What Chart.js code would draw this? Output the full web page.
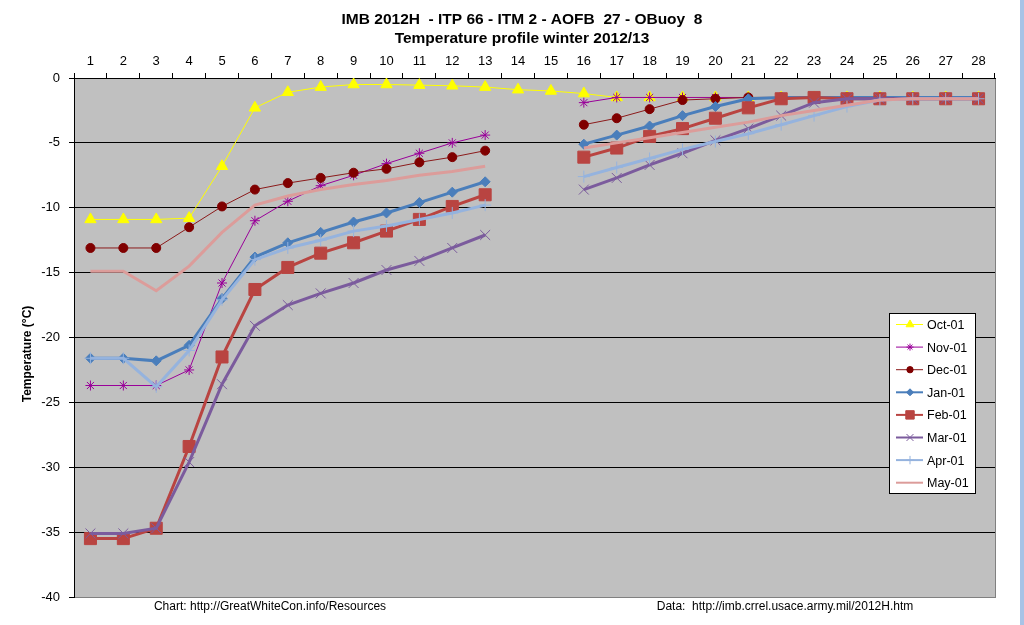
<!DOCTYPE html>
<html>
<head>
<meta charset="utf-8">
<script src="https://cdn.jsdelivr.net/npm/chart.js@4"></script>
<style>
  body { margin: 0; background: #fff; }
  #wrap { position: relative; width: 1024px; height: 625px; }
  #edge { position: absolute; right: 0; top: 0; width: 4px; height: 625px; background: #a8c3e6; }
</style>
</head>
<body>
<div id="wrap">
  <canvas id="imb-chart"></canvas>
  <div id="edge"></div>
</div>
<script>
// depth level labels (top axis)
const levels = ["1","2","3","4","5","6","7","8","9","10","11","12","13","14",
  "15","16","17","18","19","20","21","22","23","24","25","26","27","28"];
const yTicks = [0, -5, -10, -15, -20, -25, -30, -35, -40];

const titleLines = ["IMB 2012H  - ITP 66 - ITM 2 - AOFB  27 - OBuoy  8", "Temperature profile winter 2012/13"];
const seriesNames = ["Oct-01", "Nov-01", "Dec-01", "Jan-01", "Feb-01", "Mar-01", "Apr-01", "May-01"];

// temperatures per month (°C), null = no sensor reading
const oct01 = [-10.9, -10.9, -10.9, -10.8, -6.8, -2.3, -1.1, -0.7, -0.5, -0.5, -0.55, -0.6, -0.7, -0.9,
  -1.0, -1.2, -1.5, -1.5, -1.5, -1.5, -1.5, -1.5, -1.5, -1.5, -1.5, -1.5, -1.5, -1.5];
const nov01 = [-23.7, -23.7, -23.7, -22.5, -15.8, -11.0, -9.5, -8.3, -7.5, -6.6, -5.8, -5.0, -4.4, null,
  null, -1.9, -1.5, -1.5, -1.5, -1.5, -1.5, -1.5, -1.5, -1.5, -1.5, -1.5, -1.5, -1.5];
const dec01 = [-13.1, -13.1, -13.1, -11.5, -9.9, -8.6, -8.1, -7.7, -7.3, -7.0, -6.5, -6.1, -5.6, null,
  null, -3.6, -3.1, -2.4, -1.7, -1.6, -1.5, -1.5, -1.5, -1.5, -1.5, -1.5, -1.5, -1.5];
const jan01 = [-21.6, -21.6, -21.8, -20.6, -17.0, -13.8, -12.7, -11.9, -11.1, -10.4, -9.6, -8.8, -8.0, null,
  null, -5.1, -4.4, -3.7, -2.9, -2.2, -1.6, -1.5, -1.5, -1.5, -1.5, -1.5, -1.5, -1.5];
const feb01 = [-35.5, -35.5, -34.7, -28.4, -21.5, -16.3, -14.6, -13.5, -12.7, -11.8, -10.9, -9.9, -9.0, null,
  null, -6.1, -5.4, -4.5, -3.9, -3.1, -2.3, -1.6, -1.5, -1.6, -1.6, -1.6, -1.6, -1.6];
const mar01 = [-35.1, -35.1, -34.7, -29.6, -23.6, -19.1, -17.5, -16.6, -15.8, -14.8, -14.1, -13.1, -12.1, null,
  null, -8.6, -7.7, -6.7, -5.8, -4.8, -3.9, -2.9, -1.9, -1.6, -1.6, -1.6, -1.6, -1.6];
const apr01 = [-21.6, -21.6, -23.8, -21.0, -17.1, -14.0, -13.1, -12.5, -11.8, -11.4, -10.9, -10.4, -9.8, null,
  null, -7.6, -6.9, -6.2, -5.5, -4.9, -4.3, -3.6, -2.9, -2.2, -1.7, -1.6, -1.6, -1.6];
const may01 = [-14.9, -14.9, -16.4, -14.5, -11.9, -9.8, -9.1, -8.6, -8.2, -7.9, -7.5, -7.2, -6.8, null,
  null, -5.4, -5.0, -4.6, -4.2, -3.8, -3.4, -2.9, -2.5, -2.1, -1.7, -1.6, -1.6, -1.6];

const footLeft = "Chart: http://GreatWhiteCon.info/Resources";
const footRight = "Data:  http://imb.crrel.usace.army.mil/2012H.htm";

const FONT = "'Liberation Sans', Arial, sans-serif";

function series(i, data, color, width, style, radius, fill) {
  return {
    label: seriesNames[i],
    data: data,
    borderColor: color,
    backgroundColor: color,
    borderWidth: width,
    pointStyle: style,
    pointRadius: style ? radius : 0,
    pointHoverRadius: style ? radius : 0,
    pointBackgroundColor: fill || color,
    pointBorderColor: fill || color,
    pointBorderWidth: 1,
    tension: 0,
    spanGaps: false,
    order: 7 - i, // later series on top, like the original
  };
}

// grey plot area + white page
const backgroundPlugin = {
  id: "plotBackground",
  beforeDraw(chart) {
    const { ctx, chartArea: a } = chart;
    ctx.save();
    ctx.fillStyle = "#ffffff";
    ctx.fillRect(0, 0, chart.width, chart.height);
    ctx.fillStyle = "#c0c0c0";
    ctx.fillRect(a.left, a.top, a.right - a.left, a.bottom - a.top);
    ctx.strokeStyle = "#808080";
    ctx.lineWidth = 1;
    ctx.beginPath();
    ctx.moveTo(a.right + 0.5, a.top);
    ctx.lineTo(a.right + 0.5, a.bottom + 1);
    ctx.stroke();
    ctx.restore();
  },
};

// titles, axis title, footer and the boxed legend
const textPlugin = {
  id: "texts",
  afterDraw(chart) {
    const { ctx, chartArea: a } = chart;
    ctx.save();
    ctx.fillStyle = "#000";
    ctx.textAlign = "center";
    ctx.textBaseline = "middle";
    ctx.font = "bold 15.5px " + FONT;
    ctx.fillText(titleLines[0], 522, 20);
    ctx.fillText(titleLines[1], 522, 39);

    ctx.font = "12px " + FONT;
    ctx.fillText(footLeft, 270, 607);
    ctx.fillText(footRight, 785, 607);

    // y title
    ctx.save();
    ctx.translate(28, 354);
    ctx.rotate(-Math.PI / 2);
    ctx.font = "bold 12px " + FONT;
    ctx.fillText("Temperature (°C)", 0, 0);
    ctx.restore();

    // legend box
    const bx = 889, by = 313, bw = 86, bh = 180;
    ctx.fillStyle = "#fff";
    ctx.fillRect(bx, by, bw, bh);
    ctx.strokeStyle = "#000";
    ctx.lineWidth = 1;
    ctx.strokeRect(bx + 0.5, by + 0.5, bw, bh);

    ctx.textAlign = "left";
    ctx.font = "12.5px " + FONT;
    chart.data.datasets.forEach((ds, i) => {
      const y = by + 11.5 + i * 22.6;
      ctx.strokeStyle = ds.borderColor;
      ctx.lineWidth = Math.min(ds.borderWidth, 2);
      ctx.beginPath();
      ctx.moveTo(896, y);
      ctx.lineTo(923, y);
      ctx.stroke();
      if (ds.pointStyle) {
        ctx.fillStyle = ds.pointBackgroundColor;
        ctx.strokeStyle = ds.pointBorderColor;
        ctx.lineWidth = 1;
        Chart.helpers.drawPoint(ctx, {
          pointStyle: ds.pointStyle,
          radius: ds.pointRadius * 0.7,
          rotation: 0,
          borderWidth: 1,
        }, 910, y);
      }
      ctx.fillStyle = "#000";
      ctx.fillText(ds.label, 927, y + 1);
    });
    ctx.restore();
  },
};

new Chart(document.getElementById("imb-chart"), {
  type: "line",
  data: {
    labels: levels,
    datasets: [
      series(0, oct01, "#ffff00", 1, "triangle", 6.5),
      series(1, nov01, "#990099", 1, "star", 5),
      series(2, dec01, "#8b1a1a", 1, "circle", 4.5, "#800000"),
      series(3, jan01, "#4a7ebb", 3, "rectRot", 5),
      series(4, feb01, "#b94441", 3, "rect", 8.5),
      series(5, mar01, "#7b5b9d", 3, "crossRot", 7),
      series(6, apr01, "#95b3de", 3, "cross", 6),
      series(7, may01, "#dc9c9a", 3, false, 0),
    ],
  },
  options: {
    responsive: true,
    maintainAspectRatio: false,
    animation: false,
    layout: { padding: { top: 44, right: 29, bottom: 28, left: 0 } },
    plugins: {
      legend: { display: false },
      title: { display: false },
      tooltip: { enabled: false },
    },
    scales: {
      x: {
        position: "top",
        offset: true,
        afterFit(scale) { scale.height = 34; },
        grid: {
          offset: true,
          drawOnChartArea: false,
          tickLength: 5,
          tickColor: "#000",
        },
        border: { color: "#000", width: 1 },
        ticks: {
          color: "#000",
          padding: 4,
          maxRotation: 0,
          autoSkip: false,
          font: { family: FONT, size: 13 },
        },
      },
      y: {
        min: Math.min(...yTicks),
        max: Math.max(...yTicks),
        afterFit(scale) { scale.width = 74; },
        afterBuildTicks(scale) { scale.ticks = yTicks.map((v) => ({ value: v })); },
        grid: {
          color: (c) => (c.tick && c.tick.value === -40 ? "#808080" : "#000"),
          lineWidth: 1,
          tickLength: 5,
          tickColor: "#000",
        },
        border: { color: "#000", width: 1 },
        ticks: {
          color: "#000",
          padding: 9,
          font: { family: FONT, size: 13 },
        },
      },
    },
  },
  plugins: [backgroundPlugin, textPlugin],
});
</script>
</body>
</html>
